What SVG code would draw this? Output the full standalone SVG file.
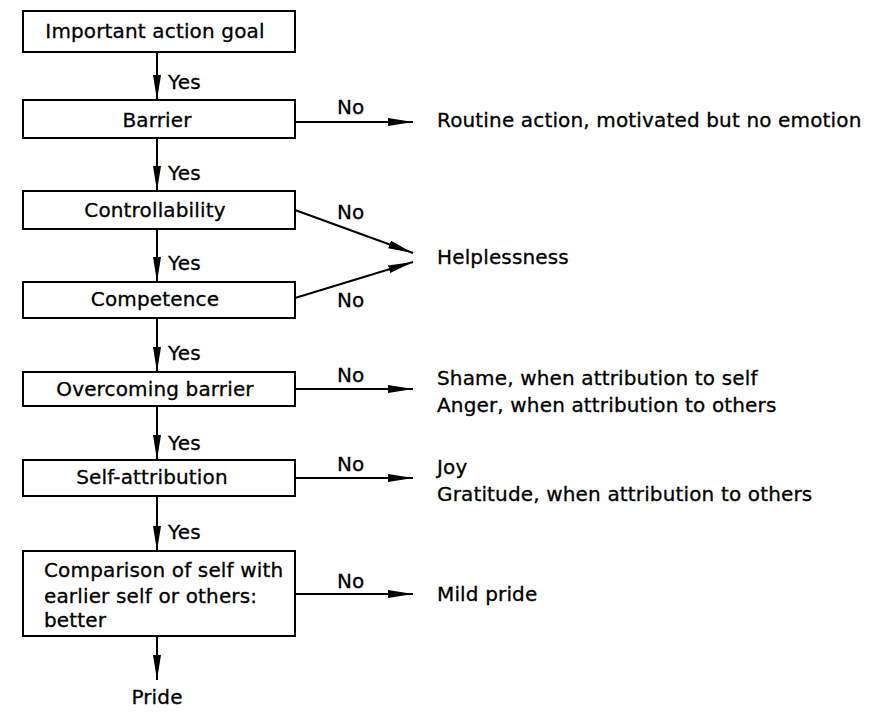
<svg xmlns="http://www.w3.org/2000/svg" width="889" height="712" viewBox="0 0 889 712">
<style>
  .box { fill: #fff; stroke: #000; stroke-width: 2; }
  .t { font-family: "DejaVu Sans", "Liberation Sans", sans-serif; font-size: 20px; letter-spacing: 0.15px; fill: #000; stroke: #000; stroke-width: 0.3; }
  .c { text-anchor: middle; }
  .ln { stroke: #000; stroke-width: 2; fill: none; marker-end: url(#ah); }
</style>
<defs>
  <marker id="ah" markerUnits="userSpaceOnUse" markerWidth="26" markerHeight="9" refX="25" refY="4" orient="auto">
    <path d="M0,0 L25,4 L0,8 z" fill="#000"/>
  </marker>
</defs>
<rect width="889" height="712" fill="#fff"/>

<g id="n-goal"><rect class="box" x="23" y="11" width="272" height="41"/><text class="t c" x="155" y="38">Important action goal</text></g>
<g id="n-barrier"><rect class="box" x="23" y="100" width="272" height="38"/><text class="t c" x="157" y="127">Barrier</text></g>
<g id="n-control"><rect class="box" x="23" y="191" width="272" height="38"/><text class="t c" x="155" y="217">Controllability</text></g>
<g id="n-competence"><rect class="box" x="23" y="282" width="272" height="36"/><text class="t c" x="155" y="306">Competence</text></g>
<g id="n-overcoming"><rect class="box" x="23" y="372" width="272" height="34"/><text class="t c" x="155" y="396">Overcoming barrier</text></g>
<g id="n-selfattr"><rect class="box" x="23" y="460" width="272" height="36"/><text class="t c" x="152" y="484">Self-attribution</text></g>
<g id="n-compare"><rect class="box" x="23" y="551" width="272" height="85"/>
  <text class="t" x="44" y="577">Comparison of self with</text>
  <text class="t" x="44" y="603">earlier self or others:</text>
  <text class="t" x="44" y="627">better</text></g>

<g id="n-routine"><text class="t" x="437" y="127">Routine action, motivated but no emotion</text></g>
<g id="n-helpless"><text class="t" x="437" y="264">Helplessness</text></g>
<g id="n-shame"><text class="t" x="437" y="385">Shame, when attribution to self</text><text class="t" x="437" y="412">Anger, when attribution to others</text></g>
<g id="n-joy"><text class="t" x="437" y="474">Joy</text><text class="t" x="437" y="501">Gratitude, when attribution to others</text></g>
<g id="n-mild"><text class="t" x="437" y="601">Mild pride</text></g>
<g id="n-pride"><text class="t c" x="157" y="704">Pride</text></g>

<g id="connectors">
  <line class="ln" x1="157" y1="52" x2="157" y2="100"/>
  <line class="ln" x1="157" y1="138" x2="157" y2="191"/>
  <line class="ln" x1="157" y1="229" x2="157" y2="282"/>
  <line class="ln" x1="157" y1="318" x2="157" y2="372"/>
  <line class="ln" x1="157" y1="406" x2="157" y2="460"/>
  <line class="ln" x1="157" y1="496" x2="157" y2="551"/>
  <line class="ln" x1="157" y1="636" x2="157" y2="680"/>
  <line class="ln" x1="295" y1="122" x2="413" y2="122"/>
  <line class="ln" x1="295" y1="210" x2="413" y2="253"/>
  <line class="ln" x1="295" y1="298" x2="413" y2="262"/>
  <line class="ln" x1="295" y1="389" x2="413" y2="389"/>
  <line class="ln" x1="295" y1="478" x2="413" y2="478"/>
  <line class="ln" x1="295" y1="594" x2="413" y2="594"/>
  <text class="t" x="168" y="89">Yes</text>
  <text class="t" x="168" y="180">Yes</text>
  <text class="t" x="168" y="270">Yes</text>
  <text class="t" x="168" y="360">Yes</text>
  <text class="t" x="168" y="450">Yes</text>
  <text class="t" x="168" y="539">Yes</text>
  <text class="t" x="337" y="114">No</text>
  <text class="t" x="337" y="219">No</text>
  <text class="t" x="337" y="307">No</text>
  <text class="t" x="337" y="382">No</text>
  <text class="t" x="337" y="471">No</text>
  <text class="t" x="337" y="588">No</text>
</g>
</svg>
